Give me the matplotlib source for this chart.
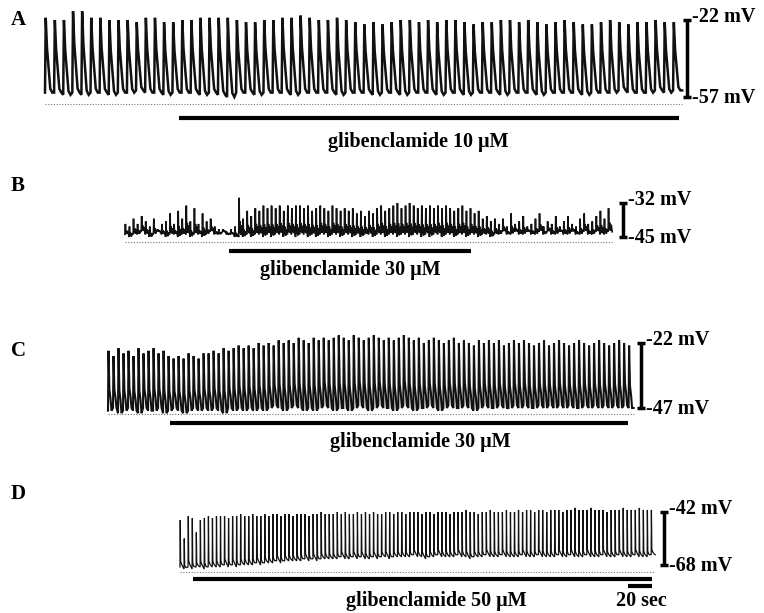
import numpy as np
import matplotlib.pyplot as plt

plt.rcParams["font.family"] = ["Liberation Serif", "DejaVu Serif"]
plt.rcParams["font.weight"] = "bold"

W, H = 764, 613
SEC_PX = 1.2  # pixels per second (the 20 sec bar is 24 px)

# ---- values (mV, one entry per spike) ----
a_peaks = [-21, -22, -22, -18, -18, -21, -21, -22, -22, -22, -23, -21, -21, -23, -23, -22, -22, -21,
           -21, -21, -21, -22, -23, -23, -22, -22, -21, -21, -20, -21, -22, -22, -21, -22, -23, -24,
           -23, -24, -23, -22, -22, -23, -22, -23, -22, -22, -23, -24, -23, -23, -22, -22, -23,
           -22, -23, -24, -23, -22, -23, -24, -24, -23, -22, -23, -24, -23, -23, -22, -23, -23]
a_troughs = [-55, -55, -56, -55, -56, -55, -55, -56, -55, -55, -54, -55, -55, -56, -55, -55, -55, -56,
             -55, -56, -57, -55, -55, -56, -55, -55, -55, -56, -55, -55, -55, -55, -56, -55, -55, -55,
             -56, -55, -55, -56, -55, -55, -55, -56, -55, -55, -56, -55, -55, -55, -56, -55, -55,
             -55, -56, -55, -55, -55, -55, -56, -55, -55, -55, -54, -55, -55, -55, -54, -55, -54]

b_peaks = ([-40, -41, -38, -40, -37, -39, -41, -38, -42, -40, -39, -36, -40, -35, -38, -33, -39, -34,
            -40, -36, -39, -38, -41, -42, -42, -43, -42, -41]
           + [-30]
           + [-38, -35, -37, -34, -35, -33, -34, -33, -34, -33, -35, -33, -34, -33, -33, -34, -33, -35,
              -34, -33, -34, -35, -33, -34, -35, -34, -35, -34, -36, -35, -37, -35, -36, -34, -33, -35,
              -34, -33, -32, -34, -33, -32, -33, -34, -33, -34, -33, -34, -33, -34, -33, -34, -35, -34,
              -33, -35, -34, -36, -35, -38, -37, -39, -38]
           + [-40, -38, -41, -36, -40, -39, -37, -41, -40, -38, -36, -41, -39, -40, -37, -41, -39, -37,
              -40, -41, -38, -36, -40, -39, -37, -35, -38, -34])
b_troughs = ([-44, -45, -44, -44, -43, -44, -45, -44, -43, -44, -45, -44, -44, -45, -44, -44, -45, -44,
              -44, -45, -44, -43, -44, -44, -43, -44, -44, -45]
             + [-45]
             + [-45, -44, -45, -44, -44, -45, -44, -45, -44, -44, -45, -44, -44, -45, -44, -44, -45, -44,
                -45, -44, -44, -45, -44, -44, -45, -44, -44, -45, -44, -45, -44, -44, -45, -44, -44, -45,
                -44, -44, -45, -44, -44, -45, -44, -44, -45, -44, -45, -44, -44, -45, -44, -44, -45, -44,
                -44, -45, -44, -44, -45, -44, -44, -45, -44]
             + [-44, -43, -44, -44, -43, -44, -44, -43, -44, -44, -43, -44, -43, -44, -44, -43, -44, -44,
                -43, -44, -44, -43, -44, -44, -43, -44, -44, -43])

c_peaks = ([-25, -27, -24, -26, -25, -27, -24, -26, -25, -24, -26, -25, -27]
           + [-28, -27, -28, -26, -27, -28, -26]
           + [-26, -25, -26, -24, -25, -24, -23, -24, -23, -24, -22]
           + [-23, -22, -23, -21, -22, -21, -22, -20, -21, -22, -20, -21, -20, -21, -20]
           + [-19, -20, -21, -19, -20, -21, -20, -19, -20, -21, -20, -21, -20, -19, -20, -21, -20, -22, -21, -20]
           + [-21, -22, -21, -20, -22, -21, -22, -23, -21, -22, -21, -22, -21, -23, -22, -21, -22, -21, -22, -23]
           + [-22, -21, -23, -22, -21, -22, -23, -22, -21, -22, -23, -22, -21, -22, -23, -22, -21, -22, -23])
c_troughs = [-48, -47, -49, -48, -47, -48, -49, -47, -48, -48,
             -47, -49, -48, -47, -48, -49, -48, -47, -48, -47,
             -48, -47, -48, -49, -47, -48, -47, -48, -47, -48,
             -47, -48, -47, -46, -47, -48, -47, -46, -47, -48,
             -47, -48, -47, -46, -47, -48, -47, -47, -48, -47,
             -46, -47, -48, -47, -46, -47, -47, -48, -47, -46,
             -47, -48, -47, -47, -46, -47, -48, -47, -46, -47,
             -47, -46, -47, -48, -47, -46, -47, -47, -46, -47,
             -47, -46, -47, -46, -47, -47, -46, -47, -46, -47,
             -46, -47, -46, -47, -47, -46, -47, -46, -47, -46,
             -47, -46, -47, -46, -47]

d_peaks = [-46, -55, -44, -45, -52, -46, -45, -44, -45, -44,
           -44, -44, -45, -44, -44, -43, -44, -44, -43, -44,
           -44, -43, -44, -43, -43, -44, -43, -43, -44, -43,
           -43, -43, -44, -43, -43, -42, -43, -43, -43, -42,
           -43, -42, -43, -43, -42, -43, -42, -43, -42, -43,
           -43, -42, -42, -43, -42, -42, -43, -42, -42, -42,
           -43, -42, -42, -43, -42, -42, -42, -43, -42, -42,
           -42, -41, -42, -42, -43, -42, -42, -41, -42, -42,
           -42, -41, -42, -42, -41, -42, -41, -41, -42, -41,
           -41, -42, -41, -41, -41, -42, -41, -41, -40, -41,
           -41, -41, -40, -41, -41, -41, -42, -41, -41, -41,
           -40, -41, -41, -41, -40, -41, -41, -41]
d_troughs = ([-69, -70, -69, -70, -69, -69, -70, -69, -69, -69, -69, -68, -69, -68, -69, -68, -68, -68]
             + [-68, -67, -68, -67, -67, -67, -66, -67, -66, -66, -66, -66, -66, -65, -66]
             + [-65, -66, -65, -65, -65, -65, -65, -64, -65, -65, -64, -65, -64, -65, -65, -64, -65, -64,
                -64, -65, -64, -64, -64]
             + [-64, -64, -63, -64, -64, -65, -64, -64, -63, -64,
                -64, -64, -64, -63, -64, -64, -65, -64, -64, -64,
                -63, -64, -64, -64, -63, -64, -64, -64, -64, -63,
                -64, -64, -64, -63, -64, -64, -64, -64, -63, -64,
                -64, -63, -64, -64, -64, -63, -64, -64, -64, -63,
                -64, -64, -64, -63, -64, -64, -64, -63, -64, -64,
                -64, -63])

letters = ["A", "B", "C", "D"]
durations = [531, 406, 438, 396]        # s
drug_on = [112, 87, 52, 11]             # s after trace start
drug_off = [528, 288, 433, 393]
drug_labels = ["glibenclamide 10 μM", "glibenclamide 30 μM",
               "glibenclamide 30 μM", "glibenclamide 50 μM"]
scale_hi = [-22, -32, -22, -42]         # mV
scale_lo = [-57, -45, -47, -68]
time_bar = 20                           # s

peaks = [a_peaks, b_peaks, c_peaks, d_peaks]
troughs = [a_troughs, b_troughs, c_troughs, d_troughs]

# spike shape: (phase within a cycle, fraction of trough->peak)
shapes = [
    [(0.0, 0.0), (0.08, 1.0), (0.22, 0.6), (0.42, 0.3), (0.58, 0.05), (0.8, 0.0)],
    [(0.0, 0.0), (0.1, 1.0), (0.2, 0.1), (0.35, 0.4), (0.55, 0.05), (0.75, 0.3)],
    [(0.0, 0.0), (0.1, 1.0), (0.28, 0.35), (0.5, 0.2), (0.7, 0.0)],
    [(0.0, 0.0), (0.06, 1.0), (0.16, 0.12), (0.45, 0.05)],
]
widths = [1.8, 1.2, 1.5, 0.9]

# layout in pixels: trace start, vertical band, scale bar anchors, etc.
layout = [
    dict(x0=45, band=(0, 160), py_hi=20, py_lo=97, dot=104, bar=118, text=(418, 142), letter_y=20, sx=687),
    dict(x0=125, band=(160, 290), py_hi=203, py_lo=237, dot=242, bar=251, text=(350, 270), letter_y=186, sx=623),
    dict(x0=108, band=(290, 465), py_hi=343, py_lo=408, dot=414, bar=423, text=(420, 442), letter_y=351, sx=641),
    dict(x0=180, band=(465, 613), py_hi=512, py_lo=565, dot=572, bar=579, text=(436, 601), letter_y=494, sx=664),
]


def spike_train(pk, tr, duration, shape):
    pk = np.asarray(pk, float)
    tr = np.asarray(tr, float)
    period = duration / len(pk)
    ts, vs = [], []
    for i in range(len(pk)):
        for phase, w in shape:
            ts.append((i + phase) * period)
            vs.append(tr[i] + w * (pk[i] - tr[i]))
    ts.append(duration)
    vs.append(tr[-1])
    return np.array(ts), np.array(vs)


fig = plt.figure(figsize=(W / 100, H / 100), dpi=100)
txt = dict(fontsize=14.5, fontweight="bold", color="black")

for k in range(4):
    L = layout[k]
    v_hi, v_lo = scale_hi[k], scale_lo[k]
    mv_per_px = (v_hi - v_lo) / (L["py_lo"] - L["py_hi"])

    def mv(py):
        return v_hi - (py - L["py_hi"]) * mv_per_px

    def sec(px):
        return (px - L["x0"]) / SEC_PX

    top, bot = L["band"]
    ax = fig.add_axes([0, 1 - bot / H, 1, (bot - top) / H])
    ax.set_xlim(sec(0), sec(W))
    ax.set_ylim(mv(bot), mv(top))
    ax.axis("off")

    t, v = spike_train(peaks[k], troughs[k], durations[k], shapes[k])
    ax.plot(t, v, color="#111111", lw=widths[k], solid_joinstyle="miter")

    # baseline reference (dotted) and drug application bar
    ax.hlines(mv(L["dot"]), 0, durations[k], colors="0.45", lw=0.8, linestyles=(0, (1, 1.5)))
    ax.hlines(mv(L["bar"]), drug_on[k], drug_off[k], colors="black", lw=3)
    ax.text(sec(L["text"][0]), mv(L["text"][1]), drug_labels[k], ha="center", va="center", **txt)

    # voltage scale bar
    cap = 4 / SEC_PX
    sx = sec(L["sx"])
    ax.vlines(sx, v_lo, v_hi, colors="black", lw=2.5)
    ax.hlines([v_hi, v_lo], sx - cap, sx + cap, colors="black", lw=2.5)
    ax.text(sx + cap + 1, mv(L["py_hi"] - 3), f"{v_hi} mV", ha="left", va="center", **txt)
    ax.text(sx + cap + 1, mv(L["py_lo"] + 1), f"{v_lo} mV", ha="left", va="center", **txt)

    ax.text(sec(11), mv(L["letter_y"]), letters[k], ha="left", va="center",
            fontsize=15, fontweight="bold")

    if k == 3:
        end = drug_off[k]
        ax.hlines(mv(586), end - time_bar, end, colors="black", lw=3)
        ax.text(sec(641), mv(601), f"{time_bar} sec", ha="center", va="center", **txt)

fig.savefig("out.png", dpi=100)
